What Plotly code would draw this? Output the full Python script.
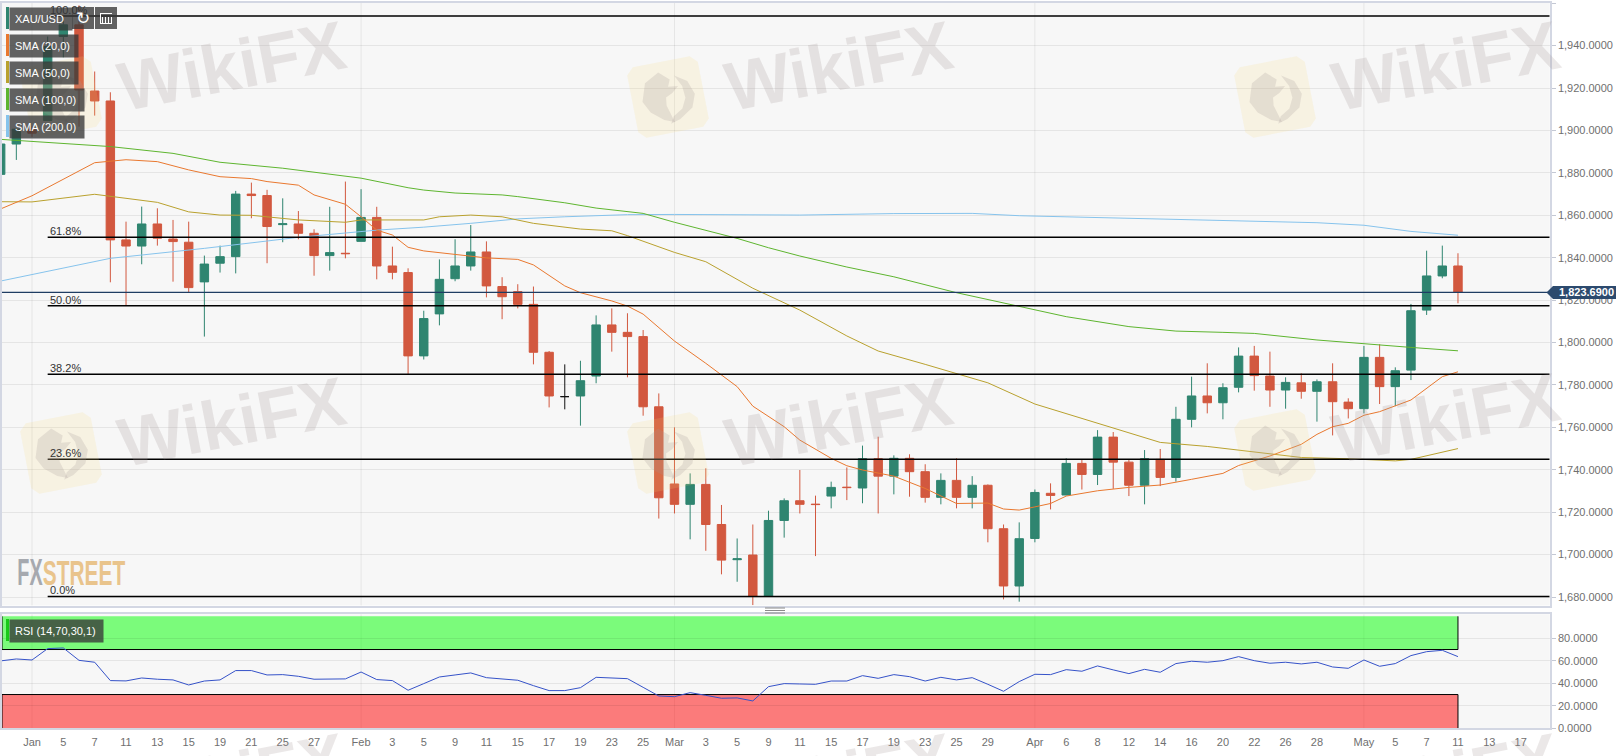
import plotly.graph_objects as go

W, H = 1619, 756

# candles, first one is 30 Dec, numbered so Jan label is bar 0
first_bar = -2
opens = [1879.3, 1893.6, 1900.6, 1904.7, 1944.3, 1949.8, 1918.6, 1913.9, 1848.4, 1845.5, 1855.9, 1848.8,
         1847.3, 1828.6, 1837.4, 1840.5, 1870.0, 1869.3, 1855.6, 1855.9, 1851.5, 1841.0, 1842.1, 1847.7,
         1859.0, 1836.1, 1833.0, 1793.7, 1813.5, 1830.1, 1836.1, 1842.7, 1826.4, 1824.0, 1818.0, 1795.4,
         1774.5, 1774.8, 1784.2, 1808.3, 1804.8, 1802.8, 1769.7, 1733.3, 1723.7, 1733.1, 1714.2, 1697.6,
         1699.8, 1680.4, 1716.1, 1725.4, 1723.8, 1727.6, 1731.8, 1731.4, 1745.2, 1737.0, 1745.4, 1739.1,
         1727.0, 1735.0, 1727.0, 1732.7, 1712.2, 1685.2, 1707.6, 1728.9, 1728.1, 1743.0, 1737.8, 1755.4,
         1743.6, 1732.7, 1744.9, 1736.4, 1763.8, 1774.8, 1771.6, 1778.9, 1793.6, 1784.2, 1777.6, 1781.0,
         1777.0, 1781.5, 1771.9, 1768.8, 1793.0, 1779.2, 1787.0, 1815.3, 1831.4, 1836.1]
highs = [1895.0, 1901.0, 1902.0, 1944.3, 1954.0, 1959.0, 1927.8, 1918.0, 1857.0, 1864.1, 1863.3, 1857.8,
         1857.0, 1841.0, 1845.7, 1871.5, 1875.4, 1872.0, 1868.0, 1862.0, 1853.4, 1864.0, 1875.9, 1872.3,
         1864.0, 1845.2, 1835.0, 1815.0, 1839.2, 1848.7, 1855.4, 1847.7, 1830.8, 1827.5, 1826.4, 1796.0,
         1789.7, 1791.4, 1812.8, 1816.1, 1813.8, 1805.9, 1776.0, 1760.0, 1738.3, 1740.7, 1723.4, 1707.6,
         1714.2, 1720.7, 1726.5, 1739.9, 1727.8, 1734.4, 1741.1, 1751.4, 1755.6, 1746.8, 1747.3, 1742.6,
         1738.3, 1745.4, 1737.0, 1733.1, 1714.2, 1715.2, 1730.7, 1733.6, 1745.4, 1744.6, 1758.7, 1757.8,
         1744.6, 1749.3, 1749.8, 1769.7, 1783.9, 1790.2, 1780.8, 1797.7, 1798.4, 1795.7, 1783.6, 1785.5,
         1782.6, 1790.2, 1773.7, 1798.4, 1799.2, 1788.3, 1818.2, 1843.3, 1845.7, 1842.1]
lows = [1876.7, 1886.1, 1897.0, 1904.7, 1934.5, 1901.8, 1907.0, 1828.4, 1817.2, 1836.9, 1845.7, 1828.7,
        1823.7, 1802.8, 1833.0, 1832.6, 1858.6, 1837.4, 1847.3, 1848.7, 1831.5, 1833.9, 1839.7, 1847.7,
        1829.8, 1829.8, 1785.2, 1792.0, 1808.1, 1828.9, 1833.9, 1821.3, 1811.0, 1816.1, 1789.7, 1769.4,
        1768.5, 1760.8, 1780.8, 1795.7, 1783.6, 1765.5, 1717.0, 1719.4, 1707.2, 1701.8, 1690.7, 1687.2,
        1676.2, 1680.4, 1708.0, 1719.4, 1699.3, 1721.8, 1725.7, 1724.2, 1719.4, 1728.4, 1727.3, 1724.5,
        1723.7, 1721.8, 1721.8, 1705.8, 1678.9, 1677.8, 1705.8, 1721.3, 1728.0, 1730.7, 1732.8, 1731.0,
        1727.6, 1723.7, 1732.3, 1734.4, 1760.0, 1766.6, 1763.8, 1776.5, 1777.3, 1769.7, 1768.8, 1773.5,
        1762.7, 1756.2, 1764.2, 1766.6, 1771.0, 1770.0, 1782.3, 1813.0, 1830.3, 1818.5]
closes = [1893.6, 1900.6, 1898.7, 1939.6, 1949.8, 1919.1, 1913.9, 1848.4, 1845.5, 1855.9, 1849.2, 1847.6,
          1825.9, 1837.0, 1840.5, 1870.0, 1869.3, 1854.7, 1856.0, 1851.5, 1841.0, 1842.4, 1841.9, 1859.0,
          1836.1, 1833.1, 1793.7, 1811.3, 1829.8, 1836.1, 1842.7, 1826.7, 1821.6, 1818.0, 1795.4, 1774.8,
          1774.5, 1782.0, 1808.3, 1804.8, 1802.8, 1769.7, 1726.8, 1723.7, 1733.1, 1714.2, 1697.4, 1698.0,
          1680.4, 1716.1, 1725.4, 1723.7, 1723.6, 1731.7, 1731.6, 1745.2, 1737.0, 1745.4, 1739.1, 1727.0,
          1735.0, 1727.0, 1732.7, 1712.2, 1685.2, 1707.5, 1729.3, 1727.9, 1743.0, 1737.8, 1755.4, 1743.6,
          1732.7, 1745.2, 1736.4, 1763.8, 1774.8, 1771.6, 1778.7, 1793.6, 1784.4, 1777.6, 1781.2, 1777.0,
          1781.5, 1772.1, 1768.8, 1793.0, 1779.2, 1786.7, 1815.0, 1831.4, 1836.1, 1823.7]
doji_bar = 34  # the one black candle

sma20_x = [-2, 0, 4, 6, 8, 10, 12, 14, 15, 17, 18, 20, 21, 22, 23, 24, 25, 27, 28, 29, 31, 32, 34, 35, 37, 38, 39,
           41, 43, 45, 46, 48, 49, 51, 52, 53, 55, 57, 59, 61, 62, 63, 64, 65, 66, 68, 70, 72, 74, 76, 77, 79, 81,
           82, 83, 84, 85, 86, 88, 89, 90, 91]
sma20_y = [1863, 1869.2, 1884.8, 1886.2, 1885.3, 1881.4, 1878.2, 1877.3, 1875.9, 1874.2, 1869.6, 1865.2, 1859.3,
           1853, 1850.7, 1844.9, 1843.2, 1841.4, 1840.8, 1839.9, 1839.2, 1836.6, 1826.7, 1823.5, 1819.6, 1817.2,
           1813.4, 1800.7, 1790.2, 1779.2, 1770, 1760.3, 1754, 1745.4, 1741.9, 1739.9, 1737, 1731.2, 1724.1, 1724.3,
           1721.5, 1721, 1722.5, 1724.1, 1727.6, 1730.1, 1731.7, 1732.8, 1735.5, 1738.3, 1742, 1746.5, 1752,
           1756.7, 1760.3, 1761.9, 1765.7, 1767.4, 1772.9, 1778.4, 1783.9, 1786.2]
sma50_x = [-2, 0, 4, 8, 10, 12, 14, 17, 20, 21, 25, 26, 28, 30, 32, 35, 37, 38, 41, 43, 46, 49, 52, 54, 57, 59, 61,
           64, 67, 70, 72, 75, 77, 81, 84, 87, 88, 91]
sma50_y = [1866.4, 1866.3, 1869.9, 1866.1, 1861.6, 1860.1, 1860, 1857.8, 1856.7, 1857.8, 1857.8, 1859.3, 1860.1,
           1859.3, 1856.2, 1853.5, 1852.7, 1850.4, 1842.5, 1838.1, 1825.6, 1815.3, 1803.1, 1796, 1789.7, 1785.5,
           1781, 1771, 1764.2, 1757.6, 1752.9, 1751, 1749.3, 1745.8, 1745.2, 1744.2, 1744.9, 1750]
sma100_x = [-2, 2, 5, 9, 12, 16, 21, 24, 25, 27, 30, 31, 34, 36, 39, 41, 45, 47, 49, 52, 55, 59, 63, 66, 70, 73, 76,
            78, 82, 85, 88, 91]
sma100_y = [1895.8, 1894, 1892.4, 1889.2, 1885, 1882.2, 1877.5, 1873, 1871.9, 1870.5, 1869.6, 1868.8, 1865.9, 1863.4,
            1860.9, 1856.7, 1849.1, 1844.7, 1840.8, 1835.6, 1831, 1823.5, 1817.2, 1812.2, 1807.5, 1805.4, 1804.8,
            1804.3, 1801.2, 1799.3, 1797.7, 1796.1]
sma200_x = [-2, 5, 11, 17, 22, 25, 28, 31, 34, 38, 41, 49, 55, 60, 63, 66, 70, 73, 76, 82, 85, 88, 91]
sma200_y = [1829, 1839.7, 1844.4, 1849.6, 1853, 1854.4, 1856.2, 1858.3, 1859.3, 1860.3, 1860.4, 1860.1, 1860.8,
            1860.9, 1859.8, 1859.3, 1858.6, 1857.9, 1857.6, 1856.5, 1855.3, 1852.4, 1850.6]

rsi = [59.9, 61.6, 60.7, 70.8, 71.4, 60.4, 58.7, 42.4, 42.1, 44.7, 43.6, 43, 38.5, 42, 43, 51.3, 51.3, 47.4, 47.7,
       46.2, 43.6, 43.9, 43.9, 50, 43.3, 42.4, 33.8, 39.7, 45.6, 47.4, 49.2, 45, 43.9, 42.7, 37.9, 33.5, 33.5, 36.1,
       45.3, 44.4, 44.1, 36.4, 28.7, 28.1, 31.7, 29.3, 26.7, 27, 24.3, 37, 39.7, 39.4, 39.1, 42, 42, 46.8, 44.4,
       47.7, 45.9, 42, 45.3, 43, 45, 39.1, 32.9, 41.5, 48, 47.7, 52.1, 50.7, 55.4, 51.9, 48.6, 52.4, 49.8, 57.5,
       59.6, 58.7, 60.1, 63.7, 60.1, 57.8, 58.7, 57.2, 58.7, 54.5, 53.3, 60.7, 55.1, 57.5, 64.6, 68.1, 69.3, 63.7]

fib_levels = [1954.0, 1849.6, 1817.3, 1785.1, 1745.0, 1680.3]
fib_labels = ["100.0%", "61.8%", "50.0%", "38.2%", "23.6%", "0.0%"]
last_price = 1823.69

tick_bars = [0, 2, 4, 6, 8, 10, 12, 14, 16, 18, 21, 23, 25, 27, 29, 31, 33, 35, 37, 39, 41, 43, 45, 47, 49, 51, 53,
             55, 57, 59, 61, 64, 66, 68, 70, 72, 74, 76, 78, 80, 82, 85, 87, 89, 91, 93, 95]
tick_labels = ["Jan", "5", "7", "11", "13", "15", "19", "21", "25", "27", "Feb", "3", "5", "9", "11", "15", "17",
               "19", "23", "25", "Mar", "3", "5", "9", "11", "15", "17", "19", "23", "25", "29", "Apr", "6", "8",
               "12", "14", "16", "20", "22", "26", "28", "May", "5", "7", "11", "13", "17"]
month_bars = [0, 21, 41, 64, 85]

FONT = "Liberation Sans"
RED = "#d2583f"
GREEN = "#2f8570"
GRID = "rgba(0,0,0,0.07)"
BORDER = "#d3d7e3"
LABEL = "#6f6f6f"
WM_GRAY = "rgba(165,150,150,0.22)"
WM_YELLOW = "rgba(250,215,120,0.16)"


def px(x):
    return x / W


def py(y):
    return 1 - y / H


def pixel_rect(x0, y0, x1, y1, color):
    return dict(type="rect", xref="paper", yref="paper", x0=px(x0), x1=px(x1), y0=py(y0), y1=py(y1),
                fillcolor=color, line_width=0, layer="above")


def pixel_path(points, color):
    d = "M" + " L".join(f"{px(a):.5f},{py(b):.5f}" for a, b in points) + " Z"
    return dict(type="path", xref="paper", yref="paper", path=d, fillcolor=color, line_width=0, layer="above")


def logo_shapes(cx, cy):
    # rotated rounded square with a rough eagle head in it
    c, s = 0.98, -0.19
    size = 36
    cut = 7
    corners = [(-size + cut, -size), (size - cut, -size), (size, -size + cut), (size, size - cut),
               (size - cut, size), (-size + cut, size), (-size, size - cut), (-size, -size + cut)]
    turn = lambda p: (cx + p[0] * c - p[1] * s, cy + p[0] * s + p[1] * c)
    head = [(-26, 0), (-20, -18), (-5, -26), (5, -17), (2, -10), (12, -9), (5, -3), (-2, 0), (-3, 8), (2, 26),
            (-8, 22), (-20, 12)]
    ring = [(10, -20), (22, -12), (27, 2), (22, 15), (8, 24), (-2, 27), (2, 20), (12, 14), (17, 4), (16, -8)]
    return [pixel_path([turn(p) for p in corners], WM_YELLOW),
            pixel_path([turn(p) for p in head], WM_GRAY),
            pixel_path([turn(p) for p in ring], WM_GRAY)]


bars = list(range(first_bar, first_bar + len(closes)))
keep = [i for i, b in enumerate(bars) if b != doji_bar]
d = bars.index(doji_bar)

fig = go.Figure()

fig.add_trace(go.Scatter(x=sma200_x, y=sma200_y, mode="lines", line=dict(color="#86c3ec", width=1)))
fig.add_trace(go.Scatter(x=sma100_x, y=sma100_y, mode="lines", line=dict(color="#5eb52f", width=1)))
fig.add_trace(go.Scatter(x=sma50_x, y=sma50_y, mode="lines", line=dict(color="#b9a12e", width=1)))
fig.add_trace(go.Scatter(x=sma20_x, y=sma20_y, mode="lines", line=dict(color="#e9782f", width=1)))

fig.add_trace(go.Candlestick(
    x=[bars[i] for i in keep], open=[opens[i] for i in keep], high=[highs[i] for i in keep],
    low=[lows[i] for i in keep], close=[closes[i] for i in keep], whiskerwidth=0,
    increasing=dict(line=dict(color=GREEN, width=1), fillcolor=GREEN),
    decreasing=dict(line=dict(color=RED, width=1), fillcolor=RED)))
fig.add_trace(go.Candlestick(
    x=[doji_bar], open=[opens[d]], high=[highs[d]], low=[lows[d]], close=[closes[d]], whiskerwidth=0,
    increasing=dict(line=dict(color="#111111", width=1), fillcolor="#111111"),
    decreasing=dict(line=dict(color="#111111", width=1), fillcolor="#111111")))

fig.add_trace(go.Scatter(x=bars, y=rsi, mode="lines", line=dict(color="#3552c8", width=1),
                         xaxis="x2", yaxis="y2"))

x_left = (2 - 32) / 15.67
x_right = (1549.7 - 32) / 15.67

shapes = []
# only the month starts get a vertical grid line
for b in month_bars:
    shapes.append(dict(type="line", xref="x", yref="y domain", x0=b, x1=b, y0=0, y1=1,
                       line=dict(color=GRID, width=1), layer="below"))
    shapes.append(dict(type="line", xref="x2", yref="y2 domain", x0=b, x1=b, y0=0, y1=1,
                       line=dict(color=GRID, width=1), layer="below"))

# rsi bands, black edge only on the inner side and the ends
shapes.append(dict(type="rect", xref="x2", yref="y2", x0=x_left, x1=91, y0=70, y1=99.5, layer="below",
                   fillcolor="rgba(0,255,0,0.5)", line_width=0))
shapes.append(dict(type="rect", xref="x2", yref="y2", x0=x_left, x1=91, y0=0, y1=30, layer="below",
                   fillcolor="rgba(255,0,0,0.5)", line_width=0))
for x0, x1, y0, y1 in [(x_left, 91, 70, 70), (x_left, 91, 30, 30), (91, 91, 70, 99.5), (91, 91, 0, 30),
                       (x_left, x_left, 70, 99.5), (x_left, x_left, 0, 30)]:
    shapes.append(dict(type="line", xref="x2", yref="y2", x0=x0, x1=x1, y0=y0, y1=y1, layer="below",
                       line=dict(color="black", width=1)))

for level in fib_levels:
    shapes.append(dict(type="line", xref="x", yref="y", x0=1, x1=x_right, y0=level, y1=level,
                       line=dict(color="black", width=1.5), layer="above"))
shapes.append(dict(type="line", xref="x", yref="y", x0=x_left, x1=x_right, y0=last_price, y1=last_price,
                   line=dict(color="#1f3d63", width=1.2), layer="above"))

# price tag on the axis
tag_y = 292.4
shapes.append(pixel_path([(1546.5, tag_y), (1553, tag_y - 6.5), (1616, tag_y - 6.5), (1616, tag_y + 6.5),
                          (1553, tag_y + 6.5)], "#2c4a6e"))

# drag handle between the panels
for y in (608, 610.5, 613):
    shapes.append(dict(type="line", xref="paper", yref="paper", x0=px(765), x1=px(785), y0=py(y), y1=py(y),
                       line=dict(color="#8a8a8a", width=1), layer="above"))

# legend stripes and toolbar
stripes = [(7, 29, "#2f8570"), (34, 56, "#e9782f"), (61, 83, "#b9a12e"), (88, 110, "#5eb52f"),
           (115, 137, "#86c3ec"), (619, 641, "#18c918")]
for y0, y1, color in stripes:
    shapes.append(pixel_rect(6, y0, 9, y1, color))
shapes.append(pixel_rect(72, 7, 94, 29, "rgba(55,55,55,0.78)"))
shapes.append(pixel_rect(95, 7, 117, 29, "rgba(55,55,55,0.78)"))
icon = [(100, 13, 112, 14), (100, 23, 112, 24), (102, 17, 103, 23), (105, 17, 106, 23), (108, 17, 109, 23),
        (111, 17, 112, 23), (100, 13, 101, 24)]
for x0, y0, x1, y1 in icon:
    shapes.append(pixel_rect(x0, y0, x1, y1, "white"))

for cx, cy in [(61, 97), (668, 97), (1275, 97), (61, 453), (668, 453), (1275, 450)]:
    shapes.extend(logo_shapes(cx, cy))

annotations = []
for level, label in zip(fib_levels, fib_labels):
    annotations.append(dict(xref="x", yref="y", x=1, y=level, text=label, showarrow=False, xanchor="left",
                            yanchor="bottom", yshift=-2, font=dict(family=FONT, size=11, color="#333333")))


def box_label(text, x0, y0, x1, y1):
    # box runs from the end of the stripe, the annotation background hides what is under it
    pad = 5
    return dict(xref="paper", yref="paper", x=px(x0), y=py(y0), xanchor="left", yanchor="top", text=text,
                showarrow=False, align="left", width=x1 - x0 - 2 * pad, height=y1 - y0 - 2 * pad, borderpad=pad,
                bgcolor="rgba(55,55,55,0.78)", font=dict(family=FONT, size=11, color="white"))


annotations.append(box_label("XAU/USD", 9, 7, 71, 29))
annotations.append(box_label("SMA (20,0)", 9, 34, 77, 56))
annotations.append(box_label("SMA (50,0)", 9, 61, 77, 83))
annotations.append(box_label("SMA (100,0)", 9, 88, 83, 110))
annotations.append(box_label("SMA (200,0)", 9, 115, 83, 137))
annotations.append(box_label("RSI (14,70,30,1)", 9, 619, 102, 641))
annotations.append(dict(xref="paper", yref="paper", x=px(83), y=py(18), xanchor="center", yanchor="middle",
                        text="↻", showarrow=False, font=dict(family="DejaVu Sans", size=17, color="white")))

annotations.append(dict(xref="paper", yref="paper", x=px(1557), y=py(tag_y), xanchor="left", yanchor="middle",
                        text="<b>1,823.6900</b>", showarrow=False, font=dict(family=FONT, size=11, color="white")))

# squeezed to condensed letters in post_script below
annotations.append(dict(xref="paper", yref="paper", x=px(29.5), y=py(572), xanchor="center", yanchor="middle",
                        text="<b>FX</b>", showarrow=False, font=dict(family=FONT, size=36, color="#a6a9af")))
annotations.append(dict(xref="paper", yref="paper", x=px(83.5), y=py(572), xanchor="center", yanchor="middle",
                        text="<b>STREET</b>", showarrow=False, font=dict(family=FONT, size=36, color="#e9c48c")))

for cx, cy in [(231, 66), (838, 66), (1445, 66), (231, 422), (838, 422), (1445, 418), (231, 778), (838, 778),
               (1445, 778)]:
    annotations.append(dict(xref="paper", yref="paper", x=px(cx), y=py(cy), xanchor="center", yanchor="middle",
                            text="<b>WikiFX</b>", showarrow=False, textangle=-11,
                            font=dict(family=FONT, size=69, color=WM_GRAY)))

axis_common = dict(showline=True, linecolor=BORDER, linewidth=2, mirror=True, zeroline=False, automargin=False)

fig.update_layout(
    width=W, height=H,
    margin=dict(l=0, r=0, t=0, b=0),
    paper_bgcolor="white",
    plot_bgcolor="#f7f7f7",
    showlegend=False,
    boxgap=0.23,
    xaxis=dict(domain=[px(2), px(1549.7)], range=[x_left, x_right], showgrid=False, showticklabels=False,
               rangeslider=dict(visible=False), anchor="y", **axis_common),
    yaxis=dict(domain=[py(605.5), py(3)], range=[1676, 1960.1], side="right", anchor="x", dtick=20, tick0=1680,
               tickformat=",.4f", gridcolor=GRID, ticks="outside", ticklen=4, tickcolor="#c4c8d4",
               tickfont=dict(family=FONT, size=11, color=LABEL), **axis_common),
    xaxis2=dict(domain=[px(2), px(1549.7)], range=[x_left, x_right], showgrid=False, anchor="y2", tickmode="array",
                tickvals=tick_bars, ticktext=tick_labels, ticks="outside", ticklen=2, tickcolor="rgba(0,0,0,0)",
                tickangle=0, tickfont=dict(family=FONT, size=11, color=LABEL), **axis_common),
    yaxis2=dict(domain=[py(728.3), py(614.3)], range=[0, 101.3], side="right", anchor="x2", tickmode="array",
                tickvals=[0, 20, 40, 60, 80], tickformat=".4f", gridcolor=GRID, ticks="outside", ticklen=4,
                tickcolor="#c4c8d4", tickfont=dict(family=FONT, size=11, color=LABEL), **axis_common),
    shapes=shapes,
    annotations=annotations,
)

squeeze = """
document.body.style.margin = '0';
document.querySelectorAll('.annotation-text').forEach(function (t) {
    var sx = {FX: 0.55, STREET: 0.58}[t.textContent];
    if (!sx) return;
    var b = t.getBBox();
    var cx = b.x + b.width / 2;
    t.setAttribute('transform', 'translate(' + cx + ',0) scale(' + sx + ',1) translate(' + (-cx) + ',0)');
});
"""
fig.write_html("out.html", config=dict(displayModeBar=False), post_script=squeeze)
